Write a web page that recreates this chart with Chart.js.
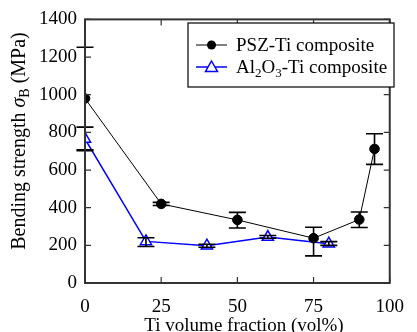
<!DOCTYPE html>
<html><head><meta charset="utf-8">
<script src="https://cdn.jsdelivr.net/npm/chart.js@4"></script>
<style>html,body{margin:0;padding:0;background:#fff}#wrap{width:417px;height:332px;position:relative}</style>
</head><body><div id="wrap"><canvas id="c" width="417" height="332"></canvas></div>
<script>
const pszX = [0, 25, 50, 75, 90, 95];
const pszY = [980, 420, 335, 238, 337, 712];
const pszErrHigh = [1252, 428, 375, 296, 377, 793];
const pszErrLow = [708, 412, 292, 144, 295, 630];
const alX = [0, 20, 40, 60, 80];
const alY = [765, 221, 198, 244, 209];
const alErrHigh = [828, 240, 206, 252, 220];
const alErrLow = [703, 194, 190, 238, 200];
const xTicks = [0, 25, 50, 75, 100];
const yTicks = [0, 200, 400, 600, 800, 1000, 1200, 1400];
const legendLabels = ['PSZ-Ti composite', 'Al2O3-Ti composite'];

const FONT = '"Liberation Serif", "Times New Roman", serif';
const FS = 19;
const YFS = 20;

const customDraw = {
  id: 'customDraw',
  afterDatasetsDraw(chart) {
    const ctx = chart.ctx, xs = chart.scales.x, ys = chart.scales.y;
    ctx.save();
    function errs(xa, hi, lo, col) {
      ctx.strokeStyle = col; ctx.lineWidth = 1.6;
      for (let i = 0; i < xa.length; i++) {
        const px = xs.getPixelForValue(xa[i]);
        const ph = ys.getPixelForValue(hi[i]), pl = ys.getPixelForValue(lo[i]);
        ctx.beginPath();
        ctx.moveTo(px, ph); ctx.lineTo(px, pl);
        ctx.moveTo(px - 8.5, ph); ctx.lineTo(px + 8.5, ph);
        ctx.moveTo(px - 8.5, pl); ctx.lineTo(px + 8.5, pl);
        ctx.stroke();
      }
    }
    errs(pszX, pszErrHigh, pszErrLow, '#000');
    errs(alX, alErrHigh, alErrLow, '#000');
    ctx.restore();
  },
  afterDraw(chart) {
    const ctx = chart.ctx, xs = chart.scales.x, ys = chart.scales.y, ca = chart.chartArea;
    ctx.save();
    ctx.strokeStyle = '#333'; ctx.lineWidth = 2;
    ctx.strokeRect(ca.left, ca.top, ca.right - ca.left, ca.bottom - ca.top);
    ctx.lineWidth = 1.2;
    ctx.beginPath();
    yTicks.forEach(v => {
      const py = ys.getPixelForValue(v);
      ctx.moveTo(ca.left, py); ctx.lineTo(ca.left + 6, py);
      ctx.moveTo(ca.right, py); ctx.lineTo(ca.right - 6, py);
    });
    xTicks.forEach(v => {
      const px = xs.getPixelForValue(v);
      ctx.moveTo(px, ca.bottom); ctx.lineTo(px, ca.bottom - 6);
      ctx.moveTo(px, ca.top); ctx.lineTo(px, ca.top + 6);
    });
    ctx.stroke();

    // legend
    const lx = 188, ly = 23, lw = 206, lh = 64;
    ctx.fillStyle = '#fff'; ctx.fillRect(lx, ly, lw, lh);
    ctx.strokeStyle = '#000'; ctx.lineWidth = 1.2; ctx.strokeRect(lx, ly, lw, lh);
    let y1 = 45;
    ctx.strokeStyle = '#000'; ctx.lineWidth = 1;
    ctx.beginPath(); ctx.moveTo(196, y1); ctx.lineTo(227, y1); ctx.stroke();
    ctx.fillStyle = '#000'; ctx.beginPath(); ctx.arc(211.5, y1, 4.5, 0, Math.PI * 2); ctx.fill();
    ctx.font = FS + 'px ' + FONT; ctx.textBaseline = 'alphabetic'; ctx.textAlign = 'left';
    ctx.fillText(legendLabels[0], 236, y1 + 6);
    let y2 = 67;
    ctx.strokeStyle = '#0000ff'; ctx.lineWidth = 1.5;
    ctx.beginPath(); ctx.moveTo(196, y2); ctx.lineTo(227, y2); ctx.stroke();
    ctx.beginPath();
    ctx.moveTo(211.5, y2 - 6); ctx.lineTo(217.5, y2 + 4.5); ctx.lineTo(205.5, y2 + 4.5); ctx.closePath();
    ctx.fillStyle = '#fff'; ctx.fill(); ctx.stroke();
    ctx.fillStyle = '#000';
    let tx = 236;
    const parts = [['Al', 0], ['2', 1], ['O', 0], ['3', 1], ['-Ti composite', 0]];
    parts.forEach(([t, sub]) => {
      ctx.font = (sub ? '13px ' : FS + 'px ') + FONT;
      ctx.fillText(t, tx, y2 + 6 + (sub ? 4 : 0));
      tx += ctx.measureText(t).width;
    });

    // x title
    ctx.font = FS + 'px ' + FONT; ctx.textAlign = 'center'; ctx.textBaseline = 'alphabetic';
    ctx.fillText('Ti volume fraction (vol%)', 244, 331);

    // y title
    ctx.save();
    ctx.translate(25, 141);
    ctx.rotate(-Math.PI / 2);
    const yparts = [['Bending strength ', 'n'], ['\u03C3', 'i'], ['B', 's'], [' (MPa)', 'n']];
    const fontOf = k => k === 'i' ? 'italic ' + YFS + 'px ' + FONT : (k === 's' ? '14px ' + FONT : YFS + 'px ' + FONT);
    let total = 0;
    yparts.forEach(([t, k]) => { ctx.font = fontOf(k); total += ctx.measureText(t).width; });
    let cx = -total / 2;
    ctx.textAlign = 'left'; ctx.textBaseline = 'alphabetic';
    yparts.forEach(([t, k]) => {
      ctx.font = fontOf(k);
      ctx.fillText(t, cx, k === 's' ? 4 : 0);
      cx += ctx.measureText(t).width;
    });
    ctx.restore();
    ctx.restore();
  }
};

new Chart(document.getElementById('c'), {
  type: 'scatter',
  data: {
    datasets: [
      {
        label: legendLabels[0],
        data: pszX.map((x, i) => ({ x, y: pszY[i] })),
        showLine: true, borderColor: '#000', borderWidth: 1,
        pointStyle: 'circle', pointRadius: 4.8, pointBackgroundColor: '#000', pointBorderColor: '#000',
        order: 1
      },
      {
        label: legendLabels[1],
        data: alX.map((x, i) => ({ x, y: alY[i] })),
        showLine: true, borderColor: '#0000ff', borderWidth: 1.5,
        pointStyle: 'triangle', pointRadius: 6.5, pointBackgroundColor: '#fff', pointBorderColor: '#0000ff', pointBorderWidth: 1.5,
        order: 2
      }
    ]
  },
  options: {
    responsive: false, animation: false, devicePixelRatio: 1,
    layout: { padding: { top: 17, right: 14, left: 0, bottom: 0 } },
    plugins: { legend: { display: false }, tooltip: { enabled: false } },
    scales: {
      x: {
        type: 'linear', min: 0, max: 100,
        afterBuildTicks: s => { s.ticks = xTicks.map(v => ({ value: v })); },
        afterFit: s => { s.height = 49; },
        grid: { display: false, drawTicks: false }, border: { display: false },
        ticks: { color: '#000', font: { family: FONT, size: FS }, padding: 13, maxRotation: 0, autoSkip: false, callback: v => String(v) }
      },
      y: {
        type: 'linear', min: 0, max: 1400,
        afterBuildTicks: s => { s.ticks = yTicks.map(v => ({ value: v })); },
        afterFit: s => { s.width = 85; },
        grid: { display: false, drawTicks: false }, border: { display: false },
        ticks: { color: '#000', font: { family: FONT, size: FS }, padding: 8, autoSkip: false, callback: v => String(v) }
      }
    }
  },
  plugins: [customDraw]
});
</script>
</body></html>
